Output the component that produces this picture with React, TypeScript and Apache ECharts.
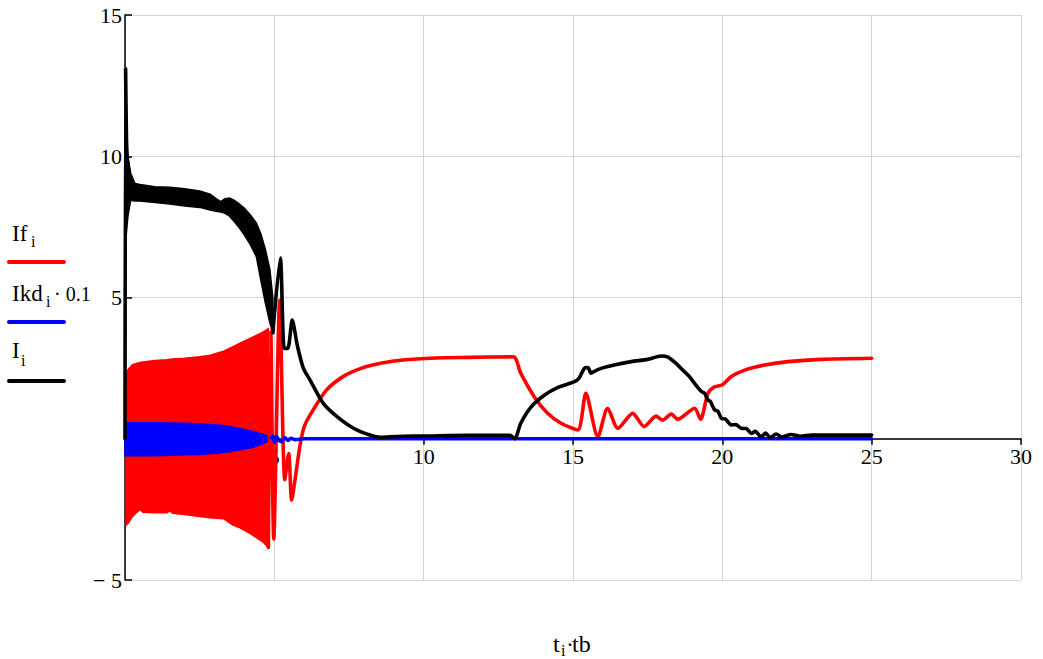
import React, { useEffect, useRef } from "react";
import * as echarts from "echarts";

const SERIF = "Liberation Serif";

// Axis ranges and tick step (t·tb on x, current values on y)
const X_MIN = 0;
const X_MAX = 30;
const Y_MIN = -5;
const Y_MAX = 15;
const TICK_STEP = 5;

// If: envelope of the fast oscillation at the start (upper / lower edge)
const ifBandT = [0.04, 0.1, 0.25, 0.5, 0.6, 1.0, 1.4, 1.5, 1.6, 2.0, 2.5, 2.85, 3.3, 3.6, 3.85, 4.2, 4.4, 4.63, 4.8];
const ifBandUp = [2.2, 2.45, 2.62, 2.7, 2.72, 2.77, 2.8, 2.81, 2.82, 2.85, 2.9, 2.96, 3.1, 3.25, 3.38, 3.56, 3.66, 3.78, 3.9];
const ifBandLo = [-3.05, -3.0, -2.75, -2.5, -2.6, -2.62, -2.62, -2.55, -2.64, -2.68, -2.75, -2.8, -2.83, -3.05, -3.15, -3.36, -3.5, -3.66, -3.85];

// If: trace after the oscillation dies out
const ifT = [4.8, 4.88, 4.98, 5.18, 5.35, 5.48, 5.58, 5.7, 5.85, 6.0, 6.3, 6.75, 7.3, 7.9, 8.56, 9.3, 10.4, 11.5, 13.0, 13.25, 13.7, 14.15, 14.6, 15.16, 15.43, 15.83, 16.16, 16.5, 17.0, 17.38, 17.78, 18.0, 18.29, 18.51, 19.07, 19.27, 19.52, 19.74, 19.99, 20.3, 20.75, 21.42, 22.2, 23.3, 25.0];
const ifV = [-3.85, 3.85, -3.55, 4.9, -1.45, -0.52, -2.17, -1.4, -0.3, 0.43, 1.02, 1.73, 2.2, 2.49, 2.67, 2.79, 2.86, 2.88, 2.9, 2.32, 1.49, 0.9, 0.55, 0.31, 1.61, 0.07, 1.08, 0.37, 0.9, 0.43, 0.8, 0.66, 0.87, 0.69, 1.08, 0.69, 1.61, 1.84, 1.9, 2.2, 2.43, 2.61, 2.73, 2.81, 2.85];

// Ikd·0.1: oscillation envelope, then the settled trace
const ikdBandT = [0.0, 1.0, 2.0, 2.5, 3.2, 3.6, 4.0, 4.3, 4.6, 4.8, 4.9];
const ikdBandUp = [0.57, 0.57, 0.55, 0.53, 0.48, 0.42, 0.33, 0.26, 0.16, 0.08, 0.04];
const ikdBandLo = [-0.6, -0.6, -0.57, -0.56, -0.5, -0.44, -0.36, -0.3, -0.18, -0.1, -0.05];
const ikdT = [4.9, 4.95, 5.0, 5.08, 5.15, 5.25, 5.35, 5.45, 5.55, 5.7, 6.0, 25.0];
const ikdV = [0.04, 0.1, -0.12, 0.08, -0.05, -0.1, 0.04, -0.06, 0.02, -0.03, 0.0, 0.0];

// I: inrush spike, oscillation envelope, then the settled trace
const iStartT = [0.0, 0.02, 0.05, 0.08, 0.15];
const iStartV = [0.0, 13.1, 10.6, 9.9, 9.3];
const iBandT = [0.04, 0.1, 0.19, 0.33, 0.5, 1.0, 1.5, 2.0, 2.5, 2.85, 3.05, 3.2, 3.35, 3.5, 3.65, 3.8, 4.0, 4.2, 4.4, 4.55, 4.7, 4.85, 4.95];
const iBandUp = [10.3, 9.95, 9.4, 9.04, 9.0, 8.92, 8.9, 8.85, 8.77, 8.66, 8.5, 8.39, 8.5, 8.52, 8.45, 8.33, 8.16, 7.92, 7.63, 7.25, 6.7, 6.0, 5.0];
const iBandLo = [7.2, 7.9, 8.44, 8.42, 8.42, 8.36, 8.31, 8.24, 8.19, 8.1, 8.05, 8.03, 7.98, 7.88, 7.7, 7.5, 7.21, 6.86, 6.44, 5.6, 4.8, 4.1, 3.75];
const iT = [4.95, 5.2, 5.33, 5.45, 5.6, 5.77, 5.97, 6.2, 6.64, 7.1, 7.65, 8.2, 8.56, 9.1, 10.2, 11.5, 12.9, 13.05, 13.25, 13.6, 14.05, 14.5, 15.05, 15.2, 15.38, 15.5, 15.6, 15.7, 15.94, 16.38, 16.95, 17.5, 17.95, 18.18, 18.51, 18.62, 18.9, 19.07, 19.3, 19.4, 19.52, 19.6, 19.74, 19.85, 19.97, 20.1, 20.3, 20.45, 20.63, 20.8, 20.97, 21.1, 21.3, 21.45, 21.6, 21.8, 22.0, 22.3, 22.6, 23.0, 24.0, 25.0];
const iV = [3.75, 6.4, 3.2, 3.2, 4.2, 3.3, 2.5, 2.07, 1.25, 0.78, 0.37, 0.13, 0.05, 0.08, 0.1, 0.12, 0.12, 0.0, 0.55, 1.13, 1.55, 1.82, 2.02, 2.14, 2.49, 2.52, 2.32, 2.38, 2.49, 2.61, 2.73, 2.81, 2.93, 2.89, 2.61, 2.49, 2.2, 1.96, 1.67, 1.62, 1.37, 1.32, 1.02, 0.98, 0.72, 0.7, 0.49, 0.5, 0.37, 0.36, 0.19, 0.26, 0.07, 0.2, 0.04, 0.17, 0.06, 0.15, 0.09, 0.13, 0.13, 0.13];

const RED = "#ff0000";
const BLUE = "#0000ff";
const BLACK = "#000000";
const GRID_GRAY = "#d4d4d4";

// plot box in pixels
const GRID_TOP = 15;
const GRID_BOTTOM = 79;
const CHART_W = 1043;
const CHART_H = 659;
// the x axis is drawn on y = 0, i.e. lifted from the bottom edge of the plot
const X_AXIS_LIFT = ((CHART_H - GRID_TOP - GRID_BOTTOM) * (0 - Y_MIN)) / (Y_MAX - Y_MIN);

const pairs = (t: number[], v: number[]) => t.map((x, i) => [x, v[i]]);

// Filled region between an upper and a lower envelope, drawn as one polygon
function bandSeries(t: number[], up: number[], lo: number[], color: string) {
  return {
    type: "custom",
    silent: true,
    data: [[t[0], up[0]]],
    renderItem: (_params: any, api: any) => {
      const pts: number[][] = [];
      for (let i = 0; i < t.length; i++) pts.push(api.coord([t[i], up[i]]));
      for (let i = t.length - 1; i >= 0; i--) pts.push(api.coord([t[i], lo[i]]));
      return {
        type: "polygon",
        shape: { points: pts },
        style: { fill: color, stroke: color, lineWidth: 1.5 },
      };
    },
  };
}

function lineSeries(t: number[], v: number[], color: string) {
  return {
    type: "line",
    data: pairs(t, v),
    showSymbol: false,
    smooth: 0.25,
    silent: true,
    lineStyle: { color, width: 3.6, cap: "round", join: "round" },
  };
}

const txt = (text: string, x: number, y: number, size: number) => ({
  type: "text",
  x,
  y,
  silent: true,
  style: {
    text,
    fontFamily: SERIF,
    fontSize: size,
    fill: "#000",
    verticalAlign: "middle",
    align: "left",
  },
});

const legendLine = (y: number, color: string) => ({
  type: "line",
  silent: true,
  shape: { x1: 9, y1: y, x2: 64, y2: y },
  style: { stroke: color, lineWidth: 4, lineCap: "round" },
});

export default function App() {
  const ref = useRef<HTMLDivElement>(null);

  useEffect(() => {
    if (!ref.current) return;
    const chart = echarts.init(ref.current, undefined, { renderer: "svg" });
    chart.setOption({
      animation: false,
      backgroundColor: "#ffffff",
      grid: { left: 125, right: 22, top: GRID_TOP, bottom: GRID_BOTTOM, containLabel: false },
      xAxis: {
        type: "value",
        min: X_MIN,
        max: X_MAX,
        interval: TICK_STEP,
        position: "bottom",
        offset: -X_AXIS_LIFT,
        axisLine: { onZero: false, lineStyle: { color: BLACK, width: 1.5 } },
        axisTick: { show: true, inside: false, length: 6, lineStyle: { color: BLACK, width: 1.5 } },
        axisLabel: {
          fontFamily: SERIF,
          fontSize: 22,
          color: "#000",
          margin: 7,
          formatter: (v: number) => (v === 0 ? "" : String(v)),
        },
        splitLine: { show: true, lineStyle: { color: GRID_GRAY, width: 1 } },
      },
      yAxis: {
        type: "value",
        min: Y_MIN,
        max: Y_MAX,
        interval: TICK_STEP,
        axisLine: { show: true, onZero: false, lineStyle: { color: BLACK, width: 1.5 } },
        axisTick: { show: true, inside: true, length: 7, lineStyle: { color: BLACK, width: 1.5 } },
        axisLabel: {
          fontFamily: SERIF,
          fontSize: 22,
          color: "#000",
          margin: 3,
          padding: [10, 0, 0, 0],
          formatter: (v: number) => (v === 0 ? "" : v < 0 ? "\u2212 " + String(-v) : String(v)),
        },
        splitLine: { show: true, lineStyle: { color: GRID_GRAY, width: 1 } },
      },
      series: [
        bandSeries(ifBandT, ifBandUp, ifBandLo, RED),
        lineSeries(ifT, ifV, RED),
        bandSeries(ikdBandT, ikdBandUp, ikdBandLo, BLUE),
        lineSeries(ikdT, ikdV, BLUE),
        bandSeries(iBandT, iBandUp, iBandLo, BLACK),
        lineSeries(iStartT, iStartV, BLACK),
        lineSeries(iT, iV, BLACK),
      ],
      graphic: [
        // legend: If_i
        txt("If", 12, 233, 23),
        txt("i", 31, 241, 16),
        legendLine(262, RED),
        // legend: Ikd_i·0.1
        txt("Ikd", 12, 293, 23),
        txt("i", 46, 301, 16),
        txt("\u00b7 0.1", 54, 294, 20),
        legendLine(322, BLUE),
        // legend: I_i
        txt("I", 12, 350, 23),
        txt("i", 21, 360, 16),
        legendLine(381, BLACK),
        // x-axis title: t_i·tb
        txt("t", 553, 644, 24),
        txt("i", 561, 650, 16),
        txt("\u00b7", 566, 644, 24),
        txt("tb", 572, 644, 24),
      ],
    });
    return () => chart.dispose();
  }, []);

  return (
    <div
      ref={ref}
      style={{ position: "fixed", left: 0, top: 0, width: CHART_W, height: CHART_H, background: "#fff" }}
    />
  );
}
